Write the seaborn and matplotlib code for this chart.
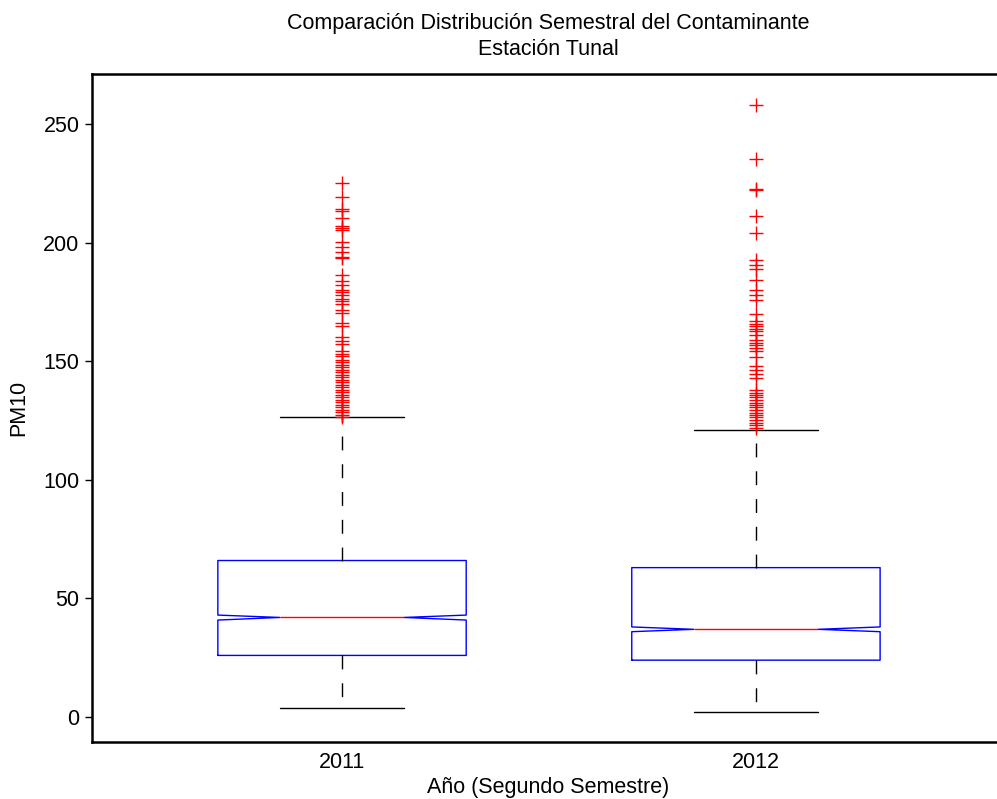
import matplotlib
matplotlib.use("Agg")
import matplotlib.pyplot as plt
import seaborn as sns
import pandas as pd

# ---- data ----
years = ["2011", "2012"]
medians = [42.0, 37.0]
q1 = [26.0, 24.0]
q3 = [66.0, 63.0]
whisk_low = [4.0, 2.0]
whisk_high = [126.3, 121.0]
notch_low = [40.9, 36.0]
notch_high = [43.0, 38.0]

outliers_2011 = [225.0, 219.4, 214.2, 213.3, 210.2, 207.1, 206.3, 205.3, 200.1, 198.3,
                 196.2, 194.1, 193.4, 186.3, 183.8, 182.1, 180.0, 179.0, 177.9, 176.2,
                 175.3, 174.1, 171.7, 170.3, 166.1, 164.7, 160.1, 158.6, 157.3, 154.2,
                 153.0, 152.1, 150.6, 149.7, 148.5, 147.4, 146.4, 145.4, 144.3, 143.2,
                 142.2, 141.2, 140.1, 139.0, 138.0, 137.0, 135.9, 134.8, 133.8, 132.8,
                 131.7, 130.6, 129.6, 128.6, 127.4, 126.6]
outliers_2012 = [258.1, 235.3, 222.7, 222.0, 211.2, 204.2, 192.5, 190.4, 189.0, 184.1,
                 179.9, 178.0, 175.9, 169.9, 167.1, 165.7, 164.7, 163.7, 162.6, 161.2,
                 159.1, 157.7, 156.7, 155.6, 154.4, 151.9, 148.0, 146.3, 144.6, 142.8,
                 137.9, 136.7, 135.7, 134.8, 133.6, 132.5, 131.5, 130.6, 129.4, 128.3,
                 127.3, 126.4, 125.2, 124.1, 123.1, 122.0]

title_lines = ["Comparación Distribución Semestral del Contaminante", "Estación Tunal"]
xlabel = "Año (Segundo Semestre)"
ylabel = "PM10"
yticks = [0, 50, 100, 150, 200, 250]

# ---- style ----
sns.set_theme(style="white")
plt.rcParams["font.family"] = ["Liberation Sans", "DejaVu Sans"]
for k in ["text.color", "axes.labelcolor", "xtick.color", "ytick.color"]:
    plt.rcParams[k] = "black"
FS = 15.5

fig = plt.figure(figsize=(9.97, 7.99), dpi=100)
ax = fig.add_axes([0.0923, 0.0713, 0.915, 0.836])

positions = list(range(1, len(years) + 1))
stats = []
for i, y in enumerate(years):
    stats.append(dict(label=y, med=medians[i], q1=q1[i], q3=q3[i],
                      whislo=whisk_low[i], whishi=whisk_high[i],
                      cilo=notch_low[i], cihi=notch_high[i], fliers=[]))

ax.bxp(stats, positions=positions, widths=0.6, shownotches=True, showfliers=False,
       boxprops=dict(color="#0000ff", linewidth=1.0),
       medianprops=dict(color="#ff0000", linewidth=1.0),
       whiskerprops=dict(color="black", linewidth=1.0, linestyle=(0, (10, 10))),
       capprops=dict(color="black", linewidth=1.0))

out_df = pd.DataFrame({
    "pos": [positions[0]] * len(outliers_2011) + [positions[1]] * len(outliers_2012),
    "val": outliers_2011 + outliers_2012,
})
sns.scatterplot(data=out_df, x="pos", y="val", marker="+", color="#ff0000",
                s=95, linewidth=1.0, ax=ax, legend=False, zorder=3)

ax.set_xlim(0.396, 2.6)
ax.set_ylim(-10.5, 271)
ax.set_xticks(positions)
ax.set_xticklabels(years, fontsize=FS)
ax.set_yticks(yticks)
ax.set_yticklabels([str(t) for t in yticks], fontsize=FS)
ax.tick_params(axis="x", length=0, pad=7)
ax.tick_params(axis="y", direction="out", length=5, width=1, pad=4, left=True, colors="black")
ax.set_xlabel(xlabel, fontsize=FS, labelpad=3)
ax.set_ylabel(ylabel, fontsize=FS, labelpad=10)
ax.set_title("\n".join(title_lines), fontsize=FS, pad=14, linespacing=1.3, color="black")
for sp in ax.spines.values():
    sp.set_visible(True)
    sp.set_color("black")
    sp.set_linewidth(1.8)
ax.grid(False)

fig.savefig("out.png", dpi=100)
